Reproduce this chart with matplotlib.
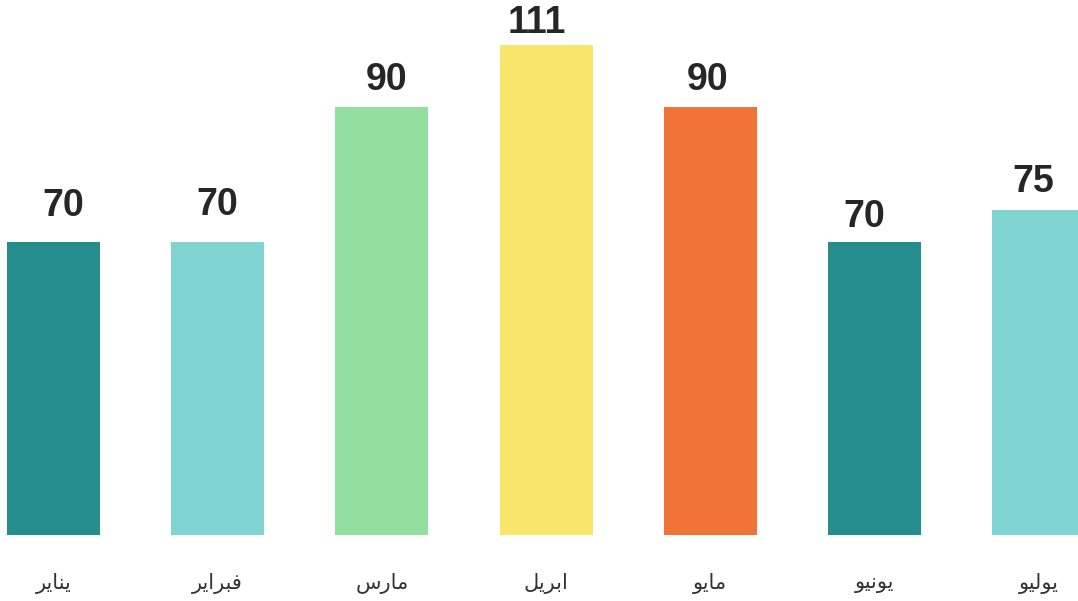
import matplotlib
matplotlib.use('Agg')
import matplotlib.pyplot as plt
import matplotlib.transforms as mtransforms
import numpy as np

months = ['يناير', 'فبراير', 'مارس', 'ابريل', 'مايو', 'يونيو', 'يوليو']
value_labels = [70, 70, 90, 111, 90, 70, 75]
# bar lengths as drawn in the picture (not proportional to the printed labels)
bar_heights = [70, 70, 102.2, 117.0, 102.3, 70, 77.6]
colors = ['#268d8d', '#7fd4d2', '#92dfa0', '#f8e66a', '#f07337', '#268d8d', '#7fd4d2']

# label nudges in pixels (dx, gap above bar)
label_dx = [10, 0, 5, -9, -3, -10, -5]
label_gap = [26, 27, 17, 12, 17, 15, 18]

# minimal arabic shaping: (isolated, final, initial, medial)
FORMS = {
    'ا': (0xFE8D, 0xFE8E, None, None),
    'ب': (0xFE8F, 0xFE90, 0xFE91, 0xFE92),
    'ر': (0xFEAD, 0xFEAE, None, None),
    'س': (0xFEB1, 0xFEB2, 0xFEB3, 0xFEB4),
    'ف': (0xFED1, 0xFED2, 0xFED3, 0xFED4),
    'ل': (0xFEDD, 0xFEDE, 0xFEDF, 0xFEE0),
    'م': (0xFEE1, 0xFEE2, 0xFEE3, 0xFEE4),
    'ن': (0xFEE5, 0xFEE6, 0xFEE7, 0xFEE8),
    'و': (0xFEED, 0xFEEE, None, None),
    'ي': (0xFEF1, 0xFEF2, 0xFEF3, 0xFEF4),
}


def shape(word):
    out = []
    for i, ch in enumerate(word):
        f = FORMS.get(ch)
        if f is None:
            out.append(ch)
            continue
        prev = FORMS.get(word[i - 1]) if i > 0 else None
        nxt = FORMS.get(word[i + 1]) if i + 1 < len(word) else None
        jp = prev is not None and prev[2] is not None
        jn = nxt is not None and f[2] is not None
        if jp and jn:
            code = f[3]
        elif jp:
            code = f[1]
        elif jn:
            code = f[2]
        else:
            code = f[0]
        out.append(chr(code))
    return ''.join(reversed(out))


W, H = 1078, 601
fig = plt.figure(figsize=(W / 100, H / 100), dpi=100)
bottom_px = 66
ax = fig.add_axes([0, bottom_px / H, 1, 1 - bottom_px / H])

px_per_unit = 293 / 70
step = 164.17
x = np.arange(len(months))
ax.bar(x, bar_heights, width=93 / step, color=colors)

xmin = -53.5 / step
ax.set_xlim(xmin, xmin + W / step)
ax.set_ylim(0, (H - bottom_px) / px_per_unit)
ax.axis('off')

for i, (xi, h) in enumerate(zip(x, bar_heights)):
    ax.annotate(str(value_labels[i]), (xi, h), xytext=(label_dx[i], label_gap[i]),
                textcoords='offset pixels', ha='center', va='baseline',
                fontsize=27, fontweight='bold', color='#262626',
                family='Liberation Sans')

trans = mtransforms.blended_transform_factory(ax.transData, fig.transFigure)
for xi, m in zip(x, months):
    ax.text(xi, (H - 583) / H, shape(m), transform=trans, ha='center', va='center',
            fontsize=15, color='#333333', family='DejaVu Sans')

fig.savefig('out.png', dpi=100)
